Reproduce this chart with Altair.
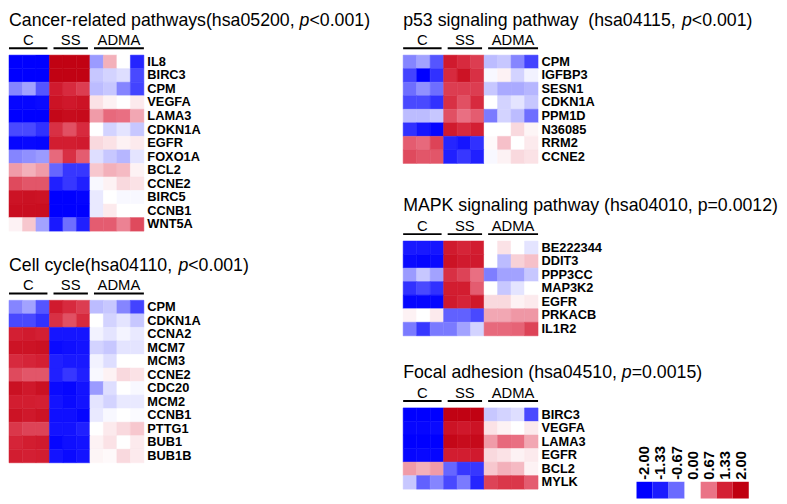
import altair as alt
import pandas as pd

# ---------------- data ----------------
GROUPS = ["C", "SS", "ADMA"]
GROUP_SIZES = [3, 3, 4]

CANCER_TITLE = [("Cancer-related pathways(hsa05200, ", False), ("p", True), ("<0.001)", False)]
CANCER_GENES = ["IL8", "BIRC3", "CPM", "VEGFA", "LAMA3", "CDKN1A", "EGFR", "FOXO1A",
                "BCL2", "CCNE2", "BIRC5", "CCNB1", "WNT5A"]
CANCER_VALUES = [
    [-2, -2, -2, 1.95, 1.95, 1.95, -0.45, 0.38, 0, -1.25],
    [-2, -2, -2, 1.95, 1.95, 1.95, -0.25, -0.2, -0.15, -0.95],
    [-0.55, -0.42, -0.85, 1.45, 1.25, 1.1, -0.3, -0.25, -0.55, -1.0],
    [-1.85, -1.85, -1.75, 1.6, 1.5, 1.6, 0.14, 0.06, 0, 0.1],
    [-2, -2, -2, 1.85, 1.75, 1.8, 0.48, 0.75, 0.7, 0.42],
    [-0.95, -0.95, -1.15, 1.2, 0.95, 1.25, 0, -0.2, -0.12, -0.25],
    [-1.85, -1.8, -1.85, 1.4, 1.4, 1.45, 0.18, 0.14, 0.06, 0.1],
    [-0.55, -0.5, -0.45, 0.75, 1.2, 0.85, -0.15, -0.25, -0.33, -0.12],
    [0.48, 0.38, 0.48, -0.7, -1.1, -1.1, 0.27, 0.38, 0.33, 0.06],
    [1.0, 0.9, 0.9, -1.3, -1.1, -1.3, -0.03, 0.06, 0.18, 0.14],
    [1.6, 1.65, 1.6, -2, -2, -1.9, -0.1, 0, -0.03, -0.03],
    [1.7, 1.7, 1.7, -2, -2, -2, -0.1, 0.1, 0, 0],
    [0.06, 0.27, -0.42, -1.4, -0.65, -1.3, 0.85, 0.85, 0.6, 1.0],
]

CELL_TITLE = [("Cell cycle(hsa04110, ", False), ("p", True), ("<0.001)", False)]
CELL_GENES = ["CPM", "CDKN1A", "CCNA2", "MCM7", "MCM3", "CCNE2", "CDC20", "MCM2",
              "CCNB1", "PTTG1", "BUB1", "BUB1B"]
CELL_VALUES = [
    [-0.55, -0.42, -0.85, 1.45, 1.25, 1.1, -0.3, -0.25, -0.55, -1.0],
    [-0.95, -0.95, -1.15, 1.2, 0.95, 1.25, 0, -0.2, -0.12, -0.25],
    [1.35, 1.45, 1.35, -1.5, -1.5, -1.5, -0.06, -0.12, -0.05, -0.1],
    [1.6, 1.6, 1.65, -1.75, -1.65, -1.55, -0.2, -0.25, -0.12, -0.12],
    [1.25, 1.3, 1.35, -1.3, -1.4, -1.4, -0.06, -0.15, 0, 0],
    [1.0, 0.9, 0.9, -1.3, -1.1, -1.3, -0.03, 0.06, 0.18, 0.14],
    [1.65, 1.5, 1.65, -1.75, -1.85, -1.55, -0.45, -0.15, 0, -0.03],
    [1.4, 1.4, 1.35, -1.55, -1.75, -1.55, -0.12, -0.2, -0.1, -0.1],
    [1.6, 1.5, 1.6, -1.65, -1.65, -1.85, -0.1, -0.03, 0, -0.02],
    [1.15, 1.05, 1.05, -1.55, -1.55, -1.3, 0, 0.1, 0.18, 0.27],
    [1.3, 1.4, 1.45, -1.85, -1.65, -1.55, 0.06, 0.14, 0, 0.1],
    [1.4, 1.35, 1.4, -1.55, -1.75, -1.55, 0.05, 0.03, 0.18, 0.1],
]

P53_TITLE = [("p53 signaling pathway \u00a0(hsa04115, ", False), ("p", True), ("<0.001)", False)]
P53_GENES = ["CPM", "IGFBP3", "SESN1", "CDKN1A", "PPM1D", "N36085", "RRM2", "CCNE2"]
P53_VALUES = [
    [-0.55, -0.42, -0.85, 1.45, 1.25, 1.1, -0.3, -0.25, -0.55, -1.0],
    [-1.0, -2.0, -1.15, 1.25, 1.6, 1.2, -0.03, 0.06, -0.2, -0.06],
    [-0.65, -0.5, -0.65, 1.1, 1.1, 1.1, -0.25, -0.38, -0.38, -0.33],
    [-0.95, -0.95, -1.15, 1.2, 0.95, 1.25, 0, -0.2, -0.12, -0.25],
    [-0.3, -0.3, -0.25, 0.95, 0.7, 0.85, -0.6, -0.2, -0.3, -0.65],
    [-1.15, -1.5, -1.85, 1.45, 1.25, 1.35, 0, 0, 0.18, 0.05],
    [0.85, 0.75, 1.05, -1.25, -1.5, -1.15, 0.03, 0.3, 0, 0.1],
    [1.0, 0.9, 0.9, -1.3, -1.1, -1.3, -0.03, 0.06, 0.18, 0.14],
]

MAPK_TITLE = [("MAPK signaling pathway (hsa04010, p=0.0012)", False)]
MAPK_GENES = ["BE222344", "DDIT3", "PPP3CC", "MAP3K2", "EGFR", "PRKACB", "IL1R2"]
MAPK_VALUES = [
    [-1.4, -1.4, -1.5, 1.45, 1.3, 1.4, 0, 0.14, 0, -0.12],
    [-1.75, -1.85, -1.75, 1.6, 1.45, 1.45, 0, -0.3, 0.22, 0.3],
    [-0.45, -0.25, -0.42, 1.2, 1.05, 0.7, -0.58, -0.42, -0.42, -0.25],
    [-1.15, -0.95, -1.15, 1.4, 1.4, 0.85, 0, -0.25, -0.12, 0],
    [-1.85, -1.85, -1.85, 1.45, 1.3, 1.5, 0.18, 0.18, 0.06, 0.1],
    [0.06, 0, 0.1, -0.75, -0.75, -0.95, 0.42, 0.42, 0.5, 0.5],
    [-0.6, -1.1, -0.6, -0.6, -0.42, -0.2, 0.75, 0.75, 0.8, 1.05],
]

FOCAL_TITLE = [("Focal adhesion (hsa04510, ", False), ("p", True), ("=0.0015)", False)]
FOCAL_GENES = ["BIRC3", "VEGFA", "LAMA3", "EGFR", "BCL2", "MYLK"]
FOCAL_VALUES = [
    [-2, -2, -2, 1.95, 1.95, 1.95, -0.25, -0.2, -0.15, -0.95],
    [-1.85, -1.85, -1.75, 1.6, 1.5, 1.6, 0.14, 0.06, 0, 0.1],
    [-2, -2, -2, 1.85, 1.75, 1.8, 0.48, 0.75, 0.7, 0.42],
    [-1.85, -1.8, -1.85, 1.4, 1.4, 1.45, 0.18, 0.14, 0.06, 0.1],
    [0.48, 0.38, 0.48, -0.7, -1.1, -1.1, 0.27, 0.38, 0.33, 0.06],
    [-0.25, -0.75, -0.55, -0.95, -0.6, -1.25, 1.05, 1.15, 1.15, 0.85],
]

LEGEND_VALUES = [-2.0, -1.33, -0.67, 0.0, 0.67, 1.33, 2.0]
LEGEND_LABELS = ["-2.00", "-1.33", "-0.67", "0.00", "0.67", "1.33", "2.00"]
LEGEND_COLORS = ["#0000ff", "#1c1cff", "#6a6aff", "#ffffff", "#ea7386", "#d42034", "#c00010"]

# ---------------- style / layout ----------------
FONT = "Liberation Sans"
TITLE_SIZE = 18
LABEL_SIZE = 13
NCOL = sum(GROUP_SIZES)
CW = 13.7
RH = 13.75
W = NCOL * CW

# Arial-compatible advance widths (per 1000 em) for placing the italic "p"
_AW = {" ": 278, "\u00a0": 278, "(": 333, ")": 333, ",": 278, "-": 333, ".": 278,
       "<": 584, "=": 584, ":": 278}
for ch in "0123456789":
    _AW[ch] = 556
_AW.update(dict(zip("ABCDEFGHIJKLMNOPQRSTUVWXYZ",
                    [667, 667, 722, 722, 667, 611, 778, 722, 278, 500, 667, 556, 833, 722,
                     778, 667, 778, 722, 667, 611, 722, 667, 944, 667, 667, 611])))
_AW.update(dict(zip("abcdefghijklmnopqrstuvwxyz",
                    [556, 556, 500, 556, 556, 278, 556, 556, 222, 222, 500, 222, 833, 556,
                     556, 556, 556, 333, 500, 278, 556, 500, 722, 500, 500, 500])))


def text_width(s, size):
    return sum(_AW.get(c, 556) for c in s) * size / 1000.0


CSCALE = alt.Scale(domain=LEGEND_VALUES, range=LEGEND_COLORS, interpolate="rgb", clamp=True)


def make_panel(title_parts, genes, values, with_legend=False):
    recs = []
    for g, row in zip(genes, values):
        for j, v in enumerate(row):
            recs.append({"gene": g, "c": j, "c2": j + 1, "v": v})
    df = pd.DataFrame(recs)
    xs = alt.Scale(domain=[0, NCOL], nice=False, zero=False)

    heat = alt.Chart(df).mark_rect(strokeWidth=0.5).encode(
        x=alt.X("c:Q", scale=xs, axis=None),
        x2="c2:Q",
        y=alt.Y("gene:N", sort=genes,
                scale=alt.Scale(paddingInner=0, paddingOuter=0),
                axis=alt.Axis(orient="right", ticks=False, domain=False, title=None,
                              labelFont=FONT, labelFontSize=LABEL_SIZE, labelFontWeight="bold",
                              labelColor="black", labelPadding=3)),
        color=alt.Color("v:Q", scale=CSCALE, legend=None),
        stroke=alt.Stroke("v:Q", scale=CSCALE, legend=None),
    )

    grecs = []
    start = 0
    for k, (name, size) in enumerate(zip(GROUPS, GROUP_SIZES)):
        end = start + size
        x0 = start + (0 if k == 0 else 0.3)
        x1 = end - (0 if k == len(GROUPS) - 1 else 0.15)
        grecs.append({"name": name, "x0": x0, "x1": x1, "xm": (x0 + x1) / 2})
        start = end
    gdf = pd.DataFrame(grecs)

    htext = alt.Chart(gdf).mark_text(font=FONT, fontSize=15, baseline="alphabetic",
                                     align="center", color="black").encode(
        x=alt.X("xm:Q", scale=xs, axis=None), y=alt.value(-10), text="name:N")
    hline = alt.Chart(gdf).mark_rule(strokeWidth=2, color="black").encode(
        x=alt.X("x0:Q", scale=xs, axis=None), x2="x1:Q", y=alt.value(-7))

    layers = [heat, htext, hline]
    xoff = 0.0
    for txt, ital in title_parts:
        layers.append(
            alt.Chart(pd.DataFrame({"t": [txt]})).mark_text(
                font=FONT, fontSize=TITLE_SIZE, align="left", baseline="alphabetic",
                fontStyle="italic" if ital else "normal", color="black").encode(
                x=alt.value(xoff), y=alt.value(-30), text="t:N"))
        xoff += text_width(txt, TITLE_SIZE)

    if with_legend:
        ldf = pd.DataFrame({"i": list(range(len(LEGEND_VALUES))),
                            "v": LEGEND_VALUES, "lab": LEGEND_LABELS})
        ldf["i2"] = ldf["i"] + 1
        ldf["im"] = ldf["i"] + 0.5
        lxs = alt.Scale(domain=[0, len(LEGEND_VALUES)], range=[237, 351], nice=False, zero=False)
        lrect = alt.Chart(ldf).mark_rect().encode(
            x=alt.X("i:Q", scale=lxs, axis=None), x2="i2:Q",
            y=alt.value(75), y2=alt.value(92),
            color=alt.Color("v:Q", scale=CSCALE, legend=None))
        ltext = alt.Chart(ldf).mark_text(font=FONT, fontSize=15, fontWeight="bold", angle=270,
                                         align="left", baseline="middle", color="black").encode(
            x=alt.X("im:Q", scale=lxs, axis=None), y=alt.value(73), text="lab:N")
        layers += [lrect, ltext]

    ch = alt.layer(*layers).properties(width=W, height=len(genes) * RH)
    if with_legend:
        ch = ch.resolve_scale(x="independent")
    return ch


cancer = make_panel(CANCER_TITLE, CANCER_GENES, CANCER_VALUES)
cell = make_panel(CELL_TITLE, CELL_GENES, CELL_VALUES)
p53 = make_panel(P53_TITLE, P53_GENES, P53_VALUES)
mapk = make_panel(MAPK_TITLE, MAPK_GENES, MAPK_VALUES)
focal = make_panel(FOCAL_TITLE, FOCAL_GENES, FOCAL_VALUES, with_legend=True)

left = alt.vconcat(cancer, cell, spacing=26)
right = alt.vconcat(p53, alt.vconcat(mapk, focal, spacing=28.5), spacing=33.8)

chart = alt.hconcat(left, right, spacing=32.3).properties(
    padding={"left": 0, "top": 0, "right": 0, "bottom": 0},
    background="white",
).configure_view(stroke=None)

chart.save("out.html", embed_options={"renderer": "svg", "actions": False})
